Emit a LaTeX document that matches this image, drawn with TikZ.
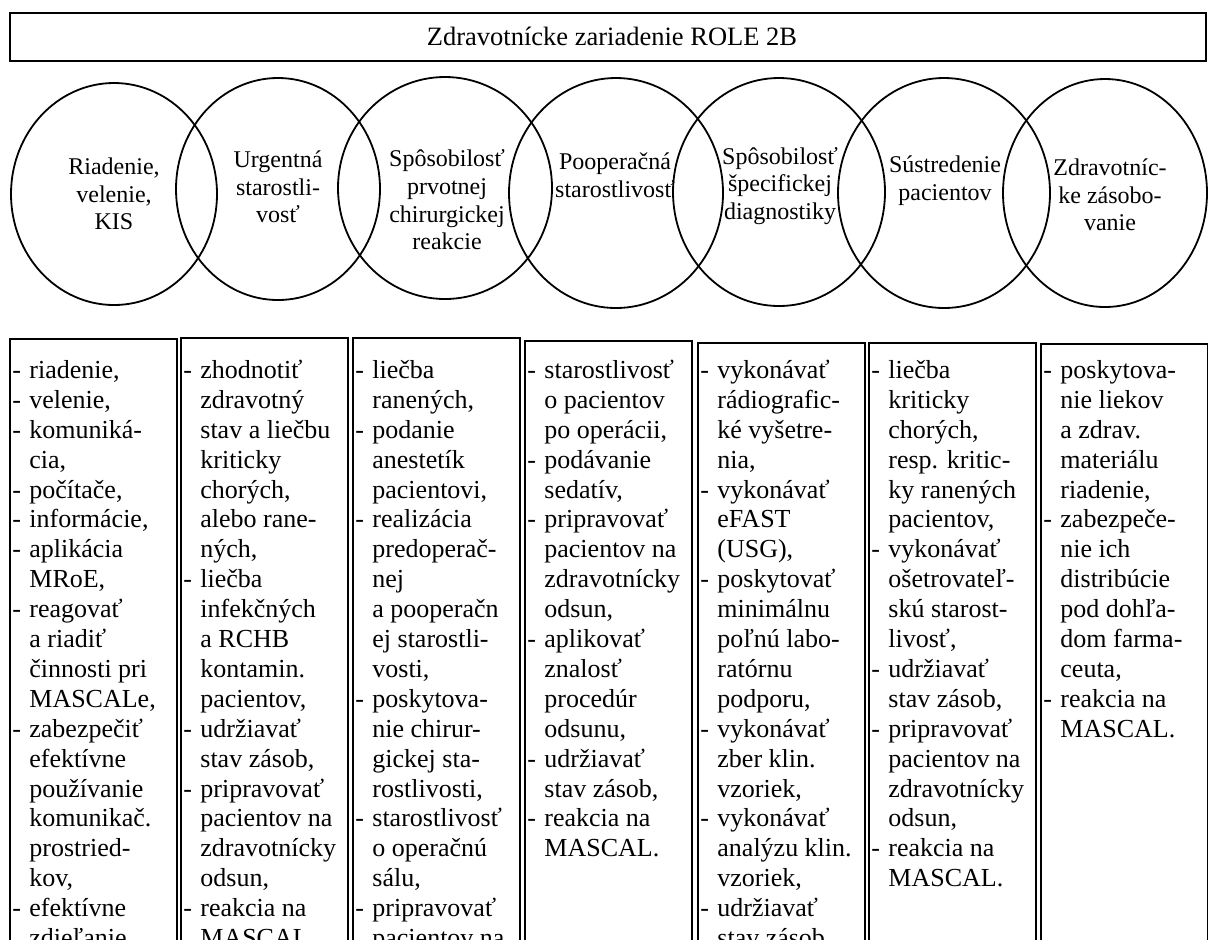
\documentclass[tikz,border=0pt]{standalone}
\usepackage{fontspec}
\setmainfont{Liberation Serif}
\usetikzlibrary{shapes.geometric}

\newcommand{\dsh}{\llap{-\hspace{4.2pt}}}
\newcommand{\boxfont}{\fontsize{13}{14.95}\selectfont}
\newcommand{\ringfont}{\fontsize{12}{13.85}\selectfont}
\newcommand{\headfont}{\fontsize{13.25}{16}\selectfont}
\newcommand{\firstline}{\rule{0pt}{11pt}}

\begin{document}
\begin{tikzpicture}[
    x=0.5pt, y=-0.5pt,
    headbox/.style={draw, line width=1pt, anchor=north west, inner sep=0pt,
                    minimum width=598pt, minimum height=24pt},
    ring/.style={draw, ellipse, line width=0.9pt, inner sep=0pt},
    ringtext/.style={align=center, font=\ringfont, inner sep=0pt},
    colbox/.style={draw, line width=1pt, anchor=north west, inner sep=0pt,
                   minimum width=83.5pt, minimum height=310pt},
    coltext/.style={anchor=north west, align=left, font=\boxfont, inner sep=0pt}
  ]
    \useasboundingbox (0,0) rectangle (1208,939);
    \clip (0,0) rectangle (1208,939);

    \node[headbox] (head) at (9,12) {};
    \node[font=\headfont, inner sep=0pt] (headtxt) at (612,36)
      {Zdravotnícke zariadenie ROLE 2B};

    % capabilities
    \node[ring, minimum width=103pt, minimum height=111pt] (c1) at (114,194) {};
    \node[ring, minimum width=102pt, minimum height=111pt] (c2) at (278,189) {};
    \node[ring, minimum width=107pt, minimum height=111pt] (c3) at (445,188) {};
    \node[ring, minimum width=107pt, minimum height=115pt] (c4) at (616,193) {};
    \node[ring, minimum width=106pt, minimum height=114pt] (c5) at (779,192) {};
    \node[ring, minimum width=106pt, minimum height=115pt] (c6) at (944,193) {};
    \node[ring, minimum width=102pt, minimum height=114pt] (c7) at (1105,193) {};

    \node[ringtext] (r1) at (114,194) {Riadenie,\\velenie,\\KIS};
    \node[ringtext] (r2) at (278,187) {Urgentná\\starostli-\\vosť};
    \node[ringtext] (r3) at (447,200) {Spôsobilosť\\prvotnej\\chirurgickej\\reakcie};
    \node[ringtext] (r4) at (615,175) {Pooperačná\\starostlivosť};
    \node[ringtext] (r5) at (780,186) {Spôsobilosť\\špecifickej\\diagnostiky};
    \node[ringtext] (r6) at (945,181) {Sústredenie\\pacientov};
    \node[ringtext] (r7) at (1110,195) {Zdravotníc-\\ke zásobo-\\vanie};

    % task columns
    \node[colbox] (b1) at (9,338) {};
    \node[colbox] (b2) at (180,337) {};
    \node[colbox] (b3) at (352,337) {};
    \node[colbox] (b4) at (524,340) {};
    \node[colbox] (b5) at (697,342) {};
    \node[colbox] (b6) at (868,342) {};
    \node[colbox] (b7) at (1040,343) {};

    \node[coltext] (t1) at (29,356) {\firstline\dsh riadenie,\\ \dsh velenie,\\
      \dsh komuniká-\\ cia,\\ \dsh počítače,\\ \dsh informácie,\\
      \dsh aplikácia\\ MRoE,\\ \dsh reagovať\\ a riadiť\\ činnosti pri\\
      MASCALe,\\ \dsh zabezpečiť\\ efektívne\\ používanie\\ komunikač.\\
      prostried-\\ kov,\\ \dsh efektívne\\ zdieľanie};
    \node[coltext] (t2) at (200,356) {\firstline\dsh zhodnotiť\\ zdravotný\\
      stav a liečbu\\ kriticky\\ chorých,\\ alebo rane-\\ ných,\\
      \dsh liečba\\ infekčných\\ a RCHB\\ kontamin.\\ pacientov,\\
      \dsh udržiavať\\ stav zásob,\\ \dsh pripravovať\\ pacientov na\\
      zdravotnícky\\ odsun,\\ \dsh reakcia na\\ MASCAL.};
    \node[coltext] (t3) at (372,356) {\firstline\dsh liečba\\ ranených,\\
      \dsh podanie\\ anestetík\\ pacientovi,\\ \dsh realizácia\\
      predoperač-\\ nej\\ a pooperačn\\ ej starostli-\\ vosti,\\
      \dsh poskytova-\\ nie chirur-\\ gickej sta-\\ rostlivosti,\\
      \dsh starostlivosť\\ o operačnú\\ sálu,\\ \dsh pripravovať\\
      pacientov na};
    \node[coltext] (t4) at (544,356) {\firstline\dsh starostlivosť\\
      o pacientov\\ po operácii,\\ \dsh podávanie\\ sedatív,\\
      \dsh pripravovať\\ pacientov na\\ zdravotnícky\\ odsun,\\
      \dsh aplikovať\\ znalosť\\ procedúr\\ odsunu,\\ \dsh udržiavať\\
      stav zásob,\\ \dsh reakcia na\\ MASCAL.};
    \node[coltext] (t5) at (717,356) {\firstline\dsh vykonávať\\
      rádiografic-\\ ké vyšetre-\\ nia,\\ \dsh vykonávať\\ eFAST\\ (USG),\\
      \dsh poskytovať\\ minimálnu\\ poľnú labo-\\ ratórnu\\ podporu,\\
      \dsh vykonávať\\ zber klin.\\ vzoriek,\\ \dsh vykonávať\\
      analýzu klin.\\ vzoriek,\\ \dsh udržiavať\\ stav zásob,};
    \node[coltext] (t6) at (888,356) {\firstline\dsh liečba\\ kriticky\\
      chorých,\\ resp. kritic-\\ ky ranených\\ pacientov,\\
      \dsh vykonávať\\ ošetrovateľ-\\ skú starost-\\ livosť,\\
      \dsh udržiavať\\ stav zásob,\\ \dsh pripravovať\\ pacientov na\\
      zdravotnícky\\ odsun,\\ \dsh reakcia na\\ MASCAL.};
    \node[coltext] (t7) at (1060,356) {\firstline\dsh poskytova-\\
      nie liekov\\ a zdrav.\\ materiálu\\ riadenie,\\ \dsh zabezpeče-\\
      nie ich\\ distribúcie\\ pod dohľa-\\ dom farma-\\ ceuta,\\
      \dsh reakcia na\\ MASCAL.};
\end{tikzpicture}
\end{document}
